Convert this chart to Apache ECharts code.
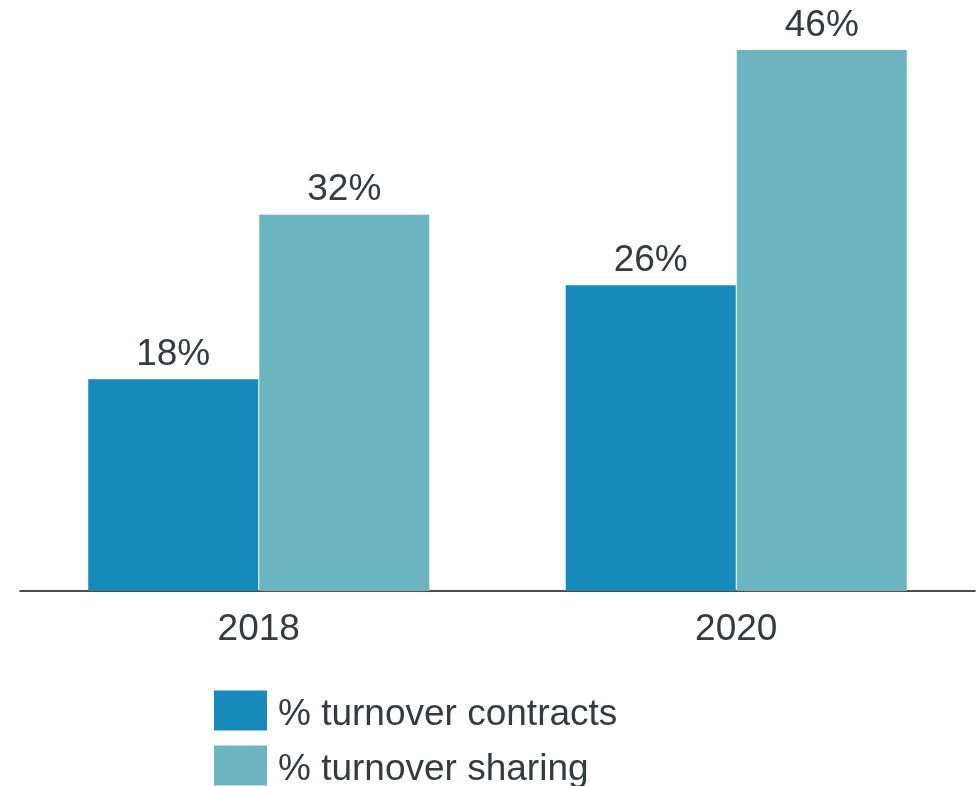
<!DOCTYPE html>
<html>
<head>
<meta charset="utf-8">
<script src="https://cdn.jsdelivr.net/npm/echarts@6/dist/echarts.min.js"></script>
<style>
  html, body { margin: 0; padding: 0; background: #fff; }
  #chart { width: 980px; height: 786px; }
</style>
</head>
<body>
<div id="chart"></div>
<script>
// Share of turnover by year
const years = ['2018', '2020'];
const seriesNames = ['% turnover contracts', '% turnover sharing'];
const contracts = [18, 26];
const sharing = [32, 46];

const textColor = '#343a40';
const fontFamily = '"Liberation Sans", Arial, sans-serif';

const chart = echarts.init(document.getElementById('chart'), null, { renderer: 'canvas' });

const labelStyle = {
  show: true,
  position: 'top',
  distance: 6,
  color: textColor,
  fontFamily: fontFamily,
  fontSize: 37,
  formatter: p => p.value + '%'
};

chart.setOption({
  animation: false,
  backgroundColor: '#ffffff',
  grid: { left: 20, right: 5, top: 3, bottom: 195, containLabel: false },
  legend: {
    orient: 'vertical',
    left: 214,
    top: 688,
    height: 120,
    padding: 0,
    itemWidth: 53,
    itemHeight: 40,
    itemGap: 10,
    icon: 'rect',
    data: seriesNames,
    formatter: name => '{t|' + name + '}',
    textStyle: {
      color: textColor,
      fontFamily: fontFamily,
      fontSize: 37,
      rich: {
        t: {
          color: textColor,
          fontFamily: fontFamily,
          fontSize: 37,
          lineHeight: 32,
          padding: [8, 0, 0, 6]
        }
      }
    }
  },
  xAxis: {
    type: 'category',
    data: years,
    axisTick: { show: false },
    axisLine: { show: true, lineStyle: { color: '#111111', width: 1.5 } },
    axisLabel: {
      color: textColor,
      fontFamily: fontFamily,
      fontSize: 37,
      margin: 20
    }
  },
  yAxis: {
    type: 'value',
    min: 0,
    max: 50,
    show: false,
    splitLine: { show: false }
  },
  series: [
    {
      name: seriesNames[0],
      type: 'bar',
      data: contracts,
      barWidth: 170,
      barGap: '0.6%',
      itemStyle: { color: '#1789ba' },
      label: labelStyle
    },
    {
      name: seriesNames[1],
      type: 'bar',
      data: sharing,
      barWidth: 170,
      barGap: '0.6%',
      itemStyle: { color: '#6cb5c0' },
      label: labelStyle
    }
  ]
});
</script>
</body>
</html>
